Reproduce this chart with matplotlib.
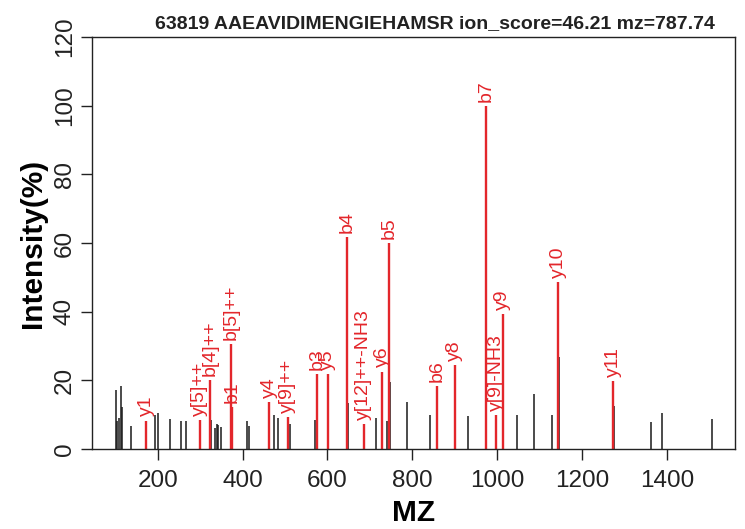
import matplotlib
matplotlib.use('Agg')
import matplotlib.pyplot as plt

plt.rcParams['font.family'] = ['Liberation Sans', 'DejaVu Sans']

# ---- peak data ----
black_mz = [101.7, 104.1, 109.5, 114.2, 116.6, 137.8, 194.3, 200.0, 228.0, 254.0,
            267.0, 325.5, 335.8, 339.0, 342.0, 348.5, 410.5, 414.5, 473.4, 482.8,
            511.0, 571.5, 647.5, 713.8, 741.0, 747.5, 787.6, 842.5, 931.3, 1014.5,
            1047.5, 1087.6, 1130.0, 1145.0, 1275.5, 1362.0, 1388.0, 1506.4]
black_int = [17.3, 8.3, 9.1, 18.5, 12.4, 6.8, 10.0, 10.4, 8.8, 8.2,
             8.2, 8.4, 6.2, 7.2, 7.0, 6.5, 8.1, 6.6, 9.8, 9.0,
             7.2, 8.5, 13.5, 9.0, 8.3, 19.6, 13.6, 9.9, 9.7, 14.6,
             9.9, 16.0, 10.0, 26.8, 12.6, 7.8, 10.4, 8.8]

red_mz = [173.0, 299.0, 324.0, 372.0, 375.0, 462.3, 506.4, 575.5, 600.7, 646.0,
          685.5, 729.4, 746.0, 859.0, 900.0, 973.8, 997.3, 1013.0, 1143.4, 1273.8]
red_int = [8.3, 8.5, 20.0, 30.6, 12.2, 13.6, 9.3, 21.9, 21.9, 61.7,
           7.4, 22.6, 60.0, 18.4, 24.5, 100.0, 10.0, 39.3, 48.7, 19.9]
red_labels = ['y1', 'y[5]++', 'b[4]++', 'b[5]++', 'b1', 'y4', 'y[9]++', 'b3', 'y5', 'b4',
              'y[12]++-NH3', 'y6', 'b5', 'b6', 'y8', 'b7', 'y[9]-NH3', 'y9', 'y10', 'y11']

x_ticks = [200, 400, 600, 800, 1000, 1200, 1400]
y_ticks = [0, 20, 40, 60, 80, 100, 120]

title = '63819 AAEAVIDIMENGIEHAMSR ion_score=46.21 mz=787.74'
red = '#E3262B'

fig = plt.figure(figsize=(7.45, 5.29), dpi=100)
ax = fig.add_axes([0.124, 0.151, 0.863, 0.779])

ax.vlines(black_mz, 0, black_int, color='#1a1a1a', lw=1.1)
ax.vlines(red_mz, 0, red_int, color=red, lw=1.7)
for mz, inten, lab in zip(red_mz, red_int, red_labels):
    ax.annotate(lab, (mz, inten), xytext=(0, 3), textcoords='offset points',
                rotation=90, ha='center', va='bottom', color=red, fontsize=14)

ax.set_xlim(45.9, 1561.3)
ax.set_ylim(0, 120)
ax.set_xticks(x_ticks)
ax.set_yticks(y_ticks)
ax.set_yticklabels([str(v) for v in y_ticks], rotation=90, va='center')
ax.tick_params(axis='both', direction='out', length=8, width=1, labelsize=17.5,
               colors='#222222')
ax.tick_params(axis='x', pad=7)
ax.tick_params(axis='y', pad=4)
for s in ax.spines.values():
    s.set_linewidth(1)
    s.set_color('#222222')

ax.set_xlabel('MZ', fontsize=21.5, fontweight='bold', labelpad=5)
ax.set_ylabel('Intensity(%)', fontsize=21.5, fontweight='bold', labelpad=5)
# title sits a bit right of the plot centre in the original
ax.text(0.533, 1.012, title, transform=ax.transAxes, ha='center', va='bottom',
        fontsize=14, fontweight='bold', color='#222222')

fig.savefig('out.png', dpi=100)
